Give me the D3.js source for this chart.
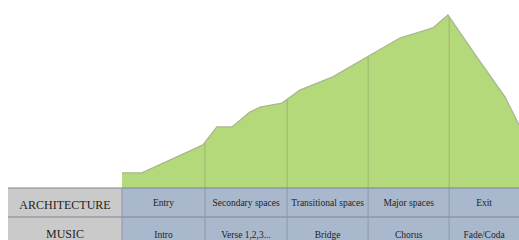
<!DOCTYPE html>
<html>
<head>
<meta charset="utf-8">
<script src="https://cdn.jsdelivr.net/npm/d3@7"></script>
<style>
  body { margin: 0; background: #fff; }
  svg { display: block; }
</style>
</head>
<body>
<svg id="chart"></svg>
<script>
// profile of intensity along the path (position 0..100, intensity 0..100)
const profile_pos = [0, 5, 20.4, 23.9, 27.7, 32.2, 34.8, 40.3, 44.8, 53.1, 61.7, 70, 78.3, 82.1, 89.4, 96.5, 100];
const profile_val = [8.7, 8.7, 24.9, 35.3, 35.3, 43.9, 46.8, 49.1, 56.6, 64.2, 75.7, 86.7, 92.5, 100, 75.7, 52.6, 36.4];

// section boundaries along the path
const sections = [0, 20.9, 41.6, 62, 82.4, 100];
const row_names = ["ARCHITECTURE", "MUSIC"];
const architecture = ["Entry", "Secondary spaces", "Transitional spaces", "Major spaces", "Exit"];
const music = ["Intro", "Verse 1,2,3...", "Bridge", "Chorus", "Fade/Coda"];

const width = 519, height = 240;
const svg = d3.select("#chart").attr("width", width).attr("height", height);

const x = d3.scaleLinear().domain([0, 100]).range([122, 519]);
const y = d3.scaleLinear().domain([0, 100]).range([188, 15]);

const pts = profile_pos.map((p, i) => ({p: p, v: profile_val[i]}));

// area
const area = d3.area()
    .x(d => x(d.p))
    .y0(y(0))
    .y1(d => y(d.v));
svg.append("path")
    .attr("d", area(pts))
    .attr("fill", "#b4d97a");

// section dividers inside the area, up to the curve
const valueAt = d3.scaleLinear().domain(profile_pos).range(profile_val);
svg.selectAll(".divider")
    .data(sections.slice(1, -1))
    .join("line")
    .attr("x1", d => x(d)).attr("x2", d => x(d))
    .attr("y1", y(0)).attr("y2", d => y(valueAt(d)))
    .attr("stroke", "#9cb46c")
    .attr("stroke-width", 1);

// outline of the profile
const line = d3.line().x(d => x(d.p)).y(d => y(d.v));
svg.append("path")
    .attr("d", line(pts))
    .attr("fill", "none")
    .attr("stroke", "#a9b690")
    .attr("stroke-width", 1.3);

// table
const rows_y = [188, 217, 240];
const text_y = [[208.5, 205.5], [238, 238]];
const rows = [architecture, music];

rows.forEach((labels, r) => {
    const y0 = rows_y[r], y1 = rows_y[r + 1];
    svg.append("rect")
        .attr("x", 8).attr("y", y0)
        .attr("width", x(0) - 8).attr("height", y1 - y0)
        .attr("fill", "#cacaca");
    svg.append("text")
        .attr("x", (8 + x(0)) / 2).attr("y", text_y[r][0])
        .attr("text-anchor", "middle")
        .attr("font-family", "Liberation Serif, serif")
        .attr("font-size", 12)
        .attr("fill", "#1e1e1e")
        .text(row_names[r]);
    labels.forEach((t, i) => {
        svg.append("rect")
            .attr("x", x(sections[i])).attr("y", y0)
            .attr("width", x(sections[i + 1]) - x(sections[i])).attr("height", y1 - y0)
            .attr("fill", "#a9b8cc");
        svg.append("text")
            .attr("x", (x(sections[i]) + x(sections[i + 1])) / 2).attr("y", text_y[r][1])
            .attr("text-anchor", "middle")
            .attr("font-family", "Liberation Serif, serif")
            .attr("font-size", 9.5)
            .attr("fill", "#1e1e1e")
            .text(t);
    });
});

// grid lines of the table
svg.selectAll(".hline")
    .data(rows_y.slice(0, 2))
    .join("line")
    .attr("x1", 8).attr("x2", width)
    .attr("y1", d => d).attr("y2", d => d)
    .attr("stroke", "#7d8590")
    .attr("stroke-width", 1);
svg.selectAll(".vline")
    .data(sections.slice(0, -1))
    .join("line")
    .attr("x1", d => x(d)).attr("x2", d => x(d))
    .attr("y1", 188).attr("y2", 240)
    .attr("stroke", "#8a96a6")
    .attr("stroke-width", 1);
</script>
</body>
</html>
